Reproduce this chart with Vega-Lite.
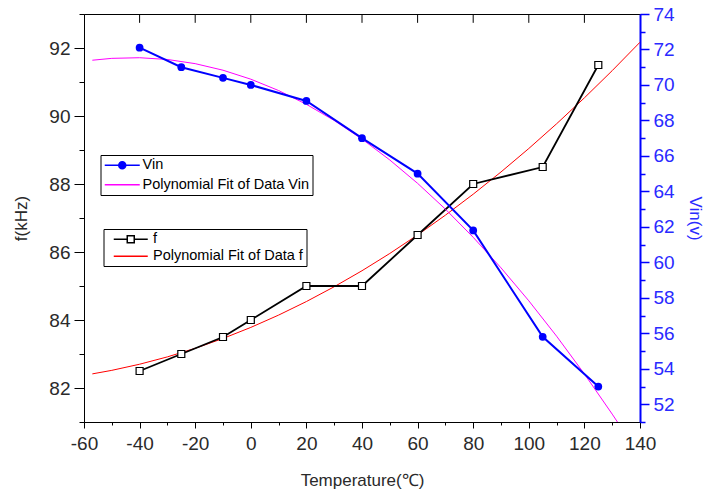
{
  "$schema": "https://vega.github.io/schema/vega-lite/v6.json",
  "width": 556,
  "height": 408,
  "autosize": "none",
  "padding": {"left": 84, "top": 14, "right": 67, "bottom": 75},
  "background": "white",
  "config": {
    "view": {"stroke": "black", "strokeWidth": 1},
    "font": "Liberation Sans",
    "axis": {"grid": false, "labelFont": "Liberation Sans", "titleFont": "Liberation Sans", "labelFontSize": 19, "titleFontSize": 17, "titleFontWeight": "normal", "domainColor": "black", "tickColor": "black", "labelColor": "#2a2a2a", "titleColor": "#2a2a2a"},
    "legend": {"labelFont": "Liberation Sans", "labelFontSize": 14.5, "labelColor": "black", "labelLimit": 400}
  },
  "datasets": {
    "f_data": [
      {"t": -40, "f": 82.5}, {"t": -25, "f": 83.0}, {"t": -10, "f": 83.5}, {"t": 0, "f": 84.0},
      {"t": 20, "f": 85.0}, {"t": 40, "f": 85.0}, {"t": 60, "f": 86.5}, {"t": 80, "f": 88.0},
      {"t": 105, "f": 88.5}, {"t": 125, "f": 91.5}
    ],
    "vin_data": [
      {"t": -40, "v": 72.1}, {"t": -25, "v": 71.0}, {"t": -10, "v": 70.4}, {"t": 0, "v": 70.0},
      {"t": 20, "v": 69.1}, {"t": 40, "v": 67.0}, {"t": 60, "v": 65.0}, {"t": 80, "v": 61.8},
      {"t": 105, "v": 55.8}, {"t": 125, "v": 53.0}
    ],
    "f_fit": [
      {"t": -57, "f": 82.415}, {"t": -50, "f": 82.519}, {"t": -40, "f": 82.699}, {"t": -30, "f": 82.915},
      {"t": -20, "f": 83.167}, {"t": -10, "f": 83.457}, {"t": 0, "f": 83.782}, {"t": 10, "f": 84.144},
      {"t": 20, "f": 84.543}, {"t": 30, "f": 84.978}, {"t": 40, "f": 85.449}, {"t": 50, "f": 85.957},
      {"t": 60, "f": 86.502}, {"t": 70, "f": 87.083}, {"t": 80, "f": 87.700}, {"t": 90, "f": 88.354},
      {"t": 100, "f": 89.044}, {"t": 110, "f": 89.771}, {"t": 120, "f": 90.534}, {"t": 130, "f": 91.334},
      {"t": 140, "f": 92.170}
    ],
    "vin_fit": [
      {"t": -57, "v": 71.394}, {"t": -50, "v": 71.500}, {"t": -40, "v": 71.535}, {"t": -30, "v": 71.436},
      {"t": -20, "v": 71.201}, {"t": -10, "v": 70.831}, {"t": 0, "v": 70.326}, {"t": 10, "v": 69.685},
      {"t": 20, "v": 68.909}, {"t": 30, "v": 67.998}, {"t": 40, "v": 66.952}, {"t": 50, "v": 65.770},
      {"t": 60, "v": 64.453}, {"t": 70, "v": 63.000}, {"t": 80, "v": 61.413}, {"t": 90, "v": 59.690},
      {"t": 100, "v": 57.832}, {"t": 110, "v": 55.838}, {"t": 120, "v": 53.709}, {"t": 130, "v": 51.445},
      {"t": 132, "v": 50.976}
    ],
    "top_ticks": [
      {"t": -40}, {"t": -20}, {"t": 0}, {"t": 20}, {"t": 40}, {"t": 60}, {"t": 80}, {"t": 100}, {"t": 120}
    ]
  },
  "layer": [
    {
      "layer": [
        {
          "data": {"name": "f_fit"},
          "mark": {"type": "line", "strokeWidth": 1, "clip": true},
          "encoding": {
            "x": {"field": "t", "type": "quantitative", "scale": {"domain": [-60, 140], "nice": false, "zero": false},
              "axis": {"orient": "bottom", "title": "Temperature(℃)", "values": [-60, -50, -40, -30, -20, -10, 0, 10, 20, 30, 40, 50, 60, 70, 80, 90, 100, 110, 120, 130, 140],
                "labelExpr": "datum.value % 20 === 0 ? '' + datum.value : ''",
                "tickSize": {"condition": {"test": "datum.value % 20 === 0", "value": 6}, "value": 3},
                "labelPadding": 6, "titlePadding": 19, "labelFlush": false, "labelOverlap": false}},
            "y": {"field": "f", "type": "quantitative", "scale": {"domain": [81, 93], "nice": false, "zero": false},
              "axis": {"orient": "left", "title": "f(kHz)", "values": [81, 82, 83, 84, 85, 86, 87, 88, 89, 90, 91, 92, 93],
                "labelExpr": "datum.value % 2 === 0 ? datum.label : ''",
                "tickSize": {"condition": {"test": "datum.value % 2 === 0", "value": 10}, "value": 5},
                "labelPadding": 4, "titlePadding": 18, "labelOverlap": false, "labelFlush": false}},
            "color": {"datum": "Polynomial Fit of Data f", "type": "nominal",
              "scale": {"domain": ["f", "Polynomial Fit of Data f"], "range": ["black", "red"]},
              "legend": {"title": null, "orient": "none", "legendX": 19.5, "legendY": 215, "strokeColor": "black", "fillColor": "white", "padding": 3,
                "symbolSize": 100, "symbolStrokeWidth": 1.5, "rowPadding": 2, "labelOffset": 15, "symbolOffset": 17,
                "encode": {"symbols": {"update": {
                  "shape": {"signal": "datum.value === 'f' ? 'M-3.4,0H-0.7M0.7,0H3.4M-0.7,-0.7H0.7V0.7H-0.7Z' : 'M-3.4,0H3.4'"},
                  "fill": {"value": "white"}}}}}}
          }
        },
        {
          "data": {"name": "top_ticks"},
          "mark": {"type": "rule", "color": "black", "strokeWidth": 1},
          "encoding": {
            "x": {"field": "t", "type": "quantitative", "axis": null},
            "y": {"datum": 93, "type": "quantitative", "axis": null},
            "y2": {"datum": 92.74}
          }
        },
        {
          "data": {"name": "f_data"},
          "mark": {"type": "line", "strokeWidth": 1.8},
          "encoding": {
            "x": {"field": "t", "type": "quantitative", "axis": null},
            "y": {"field": "f", "type": "quantitative", "axis": null},
            "color": {"datum": "f", "type": "nominal"}
          }
        },
        {
          "data": {"name": "f_data"},
          "mark": {"type": "point", "shape": "square", "filled": true, "fill": "white", "stroke": "black", "strokeWidth": 1.2, "size": 49, "opacity": 1},
          "encoding": {
            "x": {"field": "t", "type": "quantitative", "axis": null},
            "y": {"field": "f", "type": "quantitative", "axis": null}
          }
        }
      ],
      "resolve": {"axis": {"x": "independent", "y": "independent"}}
    },
    {
      "layer": [
        {
          "data": {"name": "vin_fit"},
          "mark": {"type": "line", "strokeWidth": 1, "clip": true},
          "encoding": {
            "x": {"field": "t", "type": "quantitative", "axis": null},
            "y": {"field": "v", "type": "quantitative", "scale": {"domain": [51, 74], "nice": false, "zero": false},
              "axis": {"orient": "right", "title": "Vin(v)", "values": [51, 52, 53, 54, 55, 56, 57, 58, 59, 60, 61, 62, 63, 64, 65, 66, 67, 68, 69, 70, 71, 72, 73, 74],
                "labelExpr": "datum.value % 2 === 0 ? datum.label : ''",
                "tickSize": {"condition": {"test": "datum.value % 2 === 0", "value": 9}, "value": 5},
                "domainColor": "blue", "domainWidth": 2, "tickColor": "blue", "tickWidth": 1.5, "labelColor": "#2a2aff", "titleColor": "#2a2aff",
                "labelPadding": 4, "titlePadding": 11, "labelOverlap": false, "labelFlush": false}},
            "color": {"datum": "Polynomial Fit of Data Vin", "type": "nominal",
              "scale": {"domain": ["Vin", "Polynomial Fit of Data Vin"], "range": ["blue", "magenta"]},
              "legend": {"title": null, "orient": "none", "legendX": 16.5, "legendY": 141, "strokeColor": "black", "fillColor": "white", "padding": 3,
                "symbolSize": 100, "symbolStrokeWidth": 1.5, "rowPadding": 4.5, "labelOffset": 13, "symbolOffset": 11.5,
                "encode": {"symbols": {"update": {
                  "shape": {"signal": "datum.value === 'Vin' ? 'M-3.5,0H-0.7M0.7,0H3.5M-0.7,0A0.7,0.7,0,1,1,0.7,0A0.7,0.7,0,1,1,-0.7,0Z' : 'M-3.5,0H3.5'"},
                  "fill": {"signal": "datum.value === 'Vin' ? 'blue' : 'transparent'"}}}}}}
          }
        },
        {
          "data": {"name": "vin_data"},
          "mark": {"type": "line", "strokeWidth": 2},
          "encoding": {
            "x": {"field": "t", "type": "quantitative", "axis": null},
            "y": {"field": "v", "type": "quantitative", "axis": null},
            "color": {"datum": "Vin", "type": "nominal"}
          }
        },
        {
          "data": {"name": "vin_data"},
          "mark": {"type": "point", "shape": "circle", "filled": true, "color": "blue", "size": 60, "opacity": 1},
          "encoding": {
            "x": {"field": "t", "type": "quantitative", "axis": null},
            "y": {"field": "v", "type": "quantitative", "axis": null}
          }
        }
      ],
      "resolve": {"axis": {"x": "independent", "y": "independent"}}
    }
  ],
  "resolve": {"scale": {"y": "independent", "color": "independent"}, "axis": {"x": "independent", "y": "independent"}}
}
